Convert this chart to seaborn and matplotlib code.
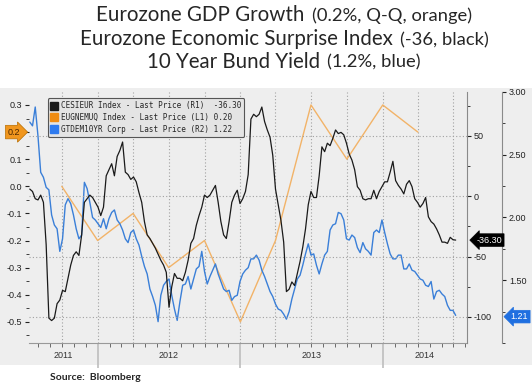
import matplotlib
matplotlib.use("Agg")
import matplotlib.pyplot as plt
import matplotlib.dates as mdates
import matplotlib.transforms as mtransforms
from matplotlib.patches import Rectangle
from matplotlib.lines import Line2D
import pandas as pd
import seaborn as sns

sns.set_style("ticks")
plt.rcParams['font.family'] = ['Liberation Sans', 'DejaVu Sans']
plt.rcParams['axes.unicode_minus'] = False

# --- data (weekly samples of the daily series) ---
week_start = "2011-07-11"
n_weeks = 157

# Eurozone economic surprise index (R1, black)
cesi = [6, 4, -2, -3, 1, -5, -40, -101, -103, -101,
        -89, -86, -78, -79, -68, -57, -49, -46, -49, -32,
        -5, -2, 1, -1, -5, -9, -16, -9, 17, 22,
        27, 17, 33, 38, 45, 20, 18, 14, 16, 12,
        3, -5, -21, -32, -35, -39, -43, -48, -53, -57,
        -63, -92, -75, -64, -68, -68, -70, -63, -53, -39,
        -35, -24, -16, -9, 1, -1, 1, 5, 9, -5,
        -21, -32, -35, -21, -5, 1, 5, -6, -2, 4,
        18, 64, 68, 66, 68, 74, 62, 55, 49, 34,
        6, -7, -20, -38, -79, -77, -71, -74, -64, -54,
        -42, -27, -7, 4, -1, -1, 17, 41, 37, 44,
        42, 48, 55, 52, 53, 51, 44, 35, 30, 22,
        8, 5, -2, -3, -2, -2, 5, -2, 4, 8,
        12, 12, 20, 29, 13, 9, 6, 2, 10, 13,
        8, -2, -5, -9, -6, -1, -17, -21, -23, -27,
        -32, -38, -38, -39, -34, -36, -36.3]

# 10 year bund yield (R2, blue)
bund = [2.76, 2.73, 2.88, 2.65, 2.36, 2.32, 2.24, 2.22, 2.02, 1.94,
        1.91, 1.73, 1.83, 2.10, 2.15, 2.11, 2.02, 1.91, 1.83, 1.86,
        2.28, 2.23, 2.12, 2.00, 1.98, 1.95, 1.92, 1.99, 1.91, 1.99,
        2.04, 2.06, 1.98, 1.95, 1.90, 1.83, 1.80, 1.88, 1.90, 1.83,
        1.78, 1.69, 1.61, 1.55, 1.43, 1.37, 1.30, 1.17, 1.38, 1.46,
        1.49, 1.51, 1.38, 1.27, 1.18, 1.33, 1.46, 1.47, 1.53, 1.43,
        1.51, 1.59, 1.61, 1.73, 1.57, 1.47, 1.53, 1.58, 1.63, 1.55,
        1.49, 1.43, 1.41, 1.42, 1.34, 1.37, 1.38, 1.49, 1.55, 1.58,
        1.60, 1.67, 1.67, 1.70, 1.66, 1.58, 1.53, 1.47, 1.41, 1.37,
        1.31, 1.27, 1.26, 1.23, 1.19, 1.25, 1.35, 1.43, 1.51, 1.54,
        1.62, 1.71, 1.79, 1.70, 1.71, 1.62, 1.55, 1.63, 1.70, 1.73,
        1.90, 1.94, 1.95, 2.04, 2.03, 1.98, 1.83, 1.82, 1.86, 1.84,
        1.76, 1.72, 1.80, 1.75, 1.73, 1.70, 1.88, 1.90, 1.88, 1.98,
        1.88, 1.79, 1.71, 1.67, 1.67, 1.70, 1.70, 1.59, 1.59, 1.63,
        1.58, 1.57, 1.54, 1.51, 1.50, 1.46, 1.45, 1.49, 1.35, 1.41,
        1.42, 1.39, 1.37, 1.30, 1.26, 1.26, 1.22]

# eurozone GDP growth q/q (L1, orange)
gdp_dates = ["2011-10-01", "2012-01-01", "2012-04-01", "2012-07-01", "2012-10-01",
             "2013-01-01", "2013-04-01", "2013-07-01", "2013-10-01", "2014-01-01",
             "2014-04-01"]
gdp = [0.0, -0.2, -0.1, -0.3, -0.2, -0.5, -0.2, 0.3, 0.1, 0.3, 0.2]

legend_labels = ["CESIEUR Index - Last Price (R1)", "EUGNEMUQ Index - Last Price (L1)",
                 "GTDEM10YR Corp - Last Price (R2)"]
legend_values = ["-36.30", "0.20", "1.22"]
tag_gdp, tag_cesi, tag_bund = 0.2, -36.30, 1.21

title_lines = [("Eurozone GDP Growth", "(0.2%, Q-Q, orange)"),
               ("Eurozone Economic Surprise Index", "(-36, black)"),
               ("10 Year Bund Yield", "(1.2%, blue)")]
years = [2011, 2012, 2013, 2014]
l1_ticks = [-0.5, -0.4, -0.3, -0.2, -0.1, 0.0, 0.1, 0.2, 0.3]

weeks = pd.date_range(week_start, periods=n_weeks, freq="7D")
df = pd.DataFrame({"date": weeks, "cesi": cesi, "bund": bund})
gdf = pd.DataFrame({"date": pd.to_datetime(gdp_dates), "gdp": gdp})

C_BLACK, C_ORANGE, C_ORANGE_SQ, C_BLUE = "#1a1a1a", "#f2b368", "#f08c12", "#3a7fd8"
GRID = dict(color="#a0a0a0", linestyle=(0, (1, 2)), linewidth=0.8)

fig = plt.figure(figsize=(5.32, 3.88), dpi=100)
fig.add_artist(Rectangle((0, 0.0593), 1, 0.714, transform=fig.transFigure,
                         fc="#eeeeee", ec="none", zorder=-5))

ax = fig.add_axes([0.0545, 0.116, 0.8233, 0.647])
ax_r1 = ax.twinx()
ax_r2 = ax.twinx()
for a in (ax, ax_r1, ax_r2):
    a.set_facecolor("none")

# lines
sns.lineplot(data=gdf, x="date", y="gdp", ax=ax, color=C_ORANGE, lw=1.0)
sns.lineplot(data=df, x="date", y="bund", ax=ax_r2, color=C_BLUE, lw=1.0)
sns.lineplot(data=df, x="date", y="cesi", ax=ax_r1, color=C_BLACK, lw=0.9)
ax_r1.set_zorder(ax_r2.get_zorder() + 1)

ax.set_xlim(pd.Timestamp("2011-07-09"), pd.Timestamp("2014-08-05"))
ax.set_ylim(-0.578, 0.348)
ax_r1.set_ylim(-121.6, 86.5)
ax_r2.set_ylim(1.0, 3.0)
for a in (ax, ax_r1, ax_r2):
    a.set_xlabel("")
    a.set_ylabel("")

# left axis (the 0.2 label sits under the orange tag)
ax.set_yticks(l1_ticks, labels=["" if abs(t - tag_gdp) < 1e-9 else f"{t:.1f}" for t in l1_ticks])
ax.yaxis.set_minor_locator(plt.MultipleLocator(0.05))
ax.tick_params(axis="y", which="major", labelsize=6.5, length=3, width=0.8, pad=2, colors="#222")
ax.tick_params(axis="y", which="minor", length=2, width=0.6, colors="#222")
for s in ("top", "left", "right"):
    ax.spines[s].set_visible(False)
ax.spines["bottom"].set_color("#999999")

# date axis
ax.xaxis.set_major_locator(mdates.YearLocator())
ax.xaxis.set_minor_locator(mdates.MonthLocator())
ax.tick_params(axis="x", which="major", length=18, width=1.2, color="#bdbdbd", labelbottom=False)
ax.tick_params(axis="x", which="minor", length=3, width=0.6, color="#555555")
x0, x1 = ax.get_xlim()
btrans = mtransforms.blended_transform_factory(ax.transData, ax.transAxes)
for yr in years:
    a_ = max(mdates.date2num(pd.Timestamp(f"{yr}-01-01")), x0)
    b_ = min(mdates.date2num(pd.Timestamp(f"{yr + 1}-01-01")), x1)
    ax.text((a_ + b_) / 2, -0.048, str(yr), transform=btrans, ha="center", va="center",
            fontsize=6.5, color="#333333")

# quarterly vertical grid
for q in pd.date_range("2011-10-01", "2014-07-01", freq="QS"):
    ax.axvline(q, zorder=0.5, **GRID)

# R1 axis
ax_r1.set_yticks([-100, -50, 0, 50])
ax_r1.yaxis.set_minor_locator(plt.FixedLocator([-75, -25, 25, 75]))
ax_r1.tick_params(axis="y", which="major", labelsize=6.5, length=3, width=0.8, pad=2, colors="#222")
ax_r1.tick_params(axis="y", which="minor", length=2, width=0.6, colors="#222")
ax_r1.grid(axis="y", which="major", **GRID)
for s in ("top", "left", "bottom"):
    ax_r1.spines[s].set_visible(False)
ax_r1.spines["right"].set_color("#8a8a8a")

# R2 axis
ax_r2.spines["right"].set_position(("axes", 1.08))
ax_r2.set_yticks([1.5, 2.0, 2.5, 3.0])
ax_r2.yaxis.set_major_formatter(plt.FormatStrFormatter("%.2f"))
ax_r2.yaxis.set_minor_locator(plt.FixedLocator([1.0, 1.25, 1.75, 2.25, 2.75]))
ax_r2.tick_params(axis="y", which="major", labelsize=6.5, length=3, width=0.8, pad=2, colors="#222")
ax_r2.tick_params(axis="y", which="minor", length=2, width=0.6, colors="#222")
for s in ("top", "left", "bottom"):
    ax_r2.spines[s].set_visible(False)
ax_r2.spines["right"].set_color("#8a8a8a")

# last-value tags
ltrans = mtransforms.blended_transform_factory(ax.transAxes, ax.transData)
ax.text(-0.02, tag_gdp, f"{tag_gdp:.1f}", transform=ltrans, ha="right", va="center",
        fontsize=6.5, color="#4a2500", zorder=10, clip_on=False,
        bbox=dict(boxstyle="rarrow,pad=0.25", fc="#f0961e", ec="#b86e00", lw=0.5))
r1trans = mtransforms.blended_transform_factory(ax_r1.transAxes, ax_r1.transData)
ax_r1.text(1.022, tag_cesi, f"{tag_cesi:.2f}", transform=r1trans, ha="left", va="center",
           fontsize=6.5, color="white", zorder=10, clip_on=False,
           bbox=dict(boxstyle="larrow,pad=0.2", fc="#000000", ec="#000000", lw=0.5))
r2trans = mtransforms.blended_transform_factory(ax_r2.transAxes, ax_r2.transData)
ax_r2.text(1.1, tag_bund, f"{tag_bund:.2f}", transform=r2trans, ha="left", va="center",
           fontsize=6.5, color="white", zorder=10, clip_on=False,
           bbox=dict(boxstyle="larrow,pad=0.2", fc="#1f6fe0", ec="#1f6fe0", lw=0.5))

# legend
handles = [Line2D([], [], ls="none", marker="s", ms=6, mfc=c, mec=c)
           for c in (C_BLACK, C_ORANGE_SQ, "#2f7bef")]
labels = [l.ljust(33) + v for l, v in zip(legend_labels, legend_values)]
leg = ax_r1.legend(handles, labels, loc="upper left", bbox_to_anchor=(0.034, 0.99),
                   prop={"family": "DejaVu Sans Mono", "size": 5.5}, frameon=True,
                   fancybox=True, facecolor="#e4e4e4", edgecolor="#555555", framealpha=1,
                   handlelength=0.8, handletextpad=0.5, borderpad=0.4, labelspacing=0.35)
leg.get_frame().set_linewidth(0.8)
leg.set_zorder(20)

# title lines: big main text plus smaller note, centred as a pair
fig.canvas.draw()
renderer = fig.canvas.get_renderer()
W = fig.bbox.width
centre = 284
for (main, note), ypos in zip(title_lines, [0.946, 0.884, 0.825]):
    t1 = fig.text(0, ypos, main, fontsize=14.8, family=["Lato", "DejaVu Sans"], va="baseline")
    t2 = fig.text(0, ypos, note, fontsize=13.2, family=["Lato", "DejaVu Sans"], va="baseline")
    w1 = t1.get_window_extent(renderer).width
    w2 = t2.get_window_extent(renderer).width
    gap = 7
    start = centre - (w1 + gap + w2) / 2
    t1.set_x(start / W)
    t2.set_x((start + w1 + gap) / W)

fig.text(0.094, 0.026, "Source:  Bloomberg", fontsize=7.5, fontweight="bold",
         family=["Lato", "DejaVu Sans"], va="center")

fig.savefig("out.png", dpi=100)
